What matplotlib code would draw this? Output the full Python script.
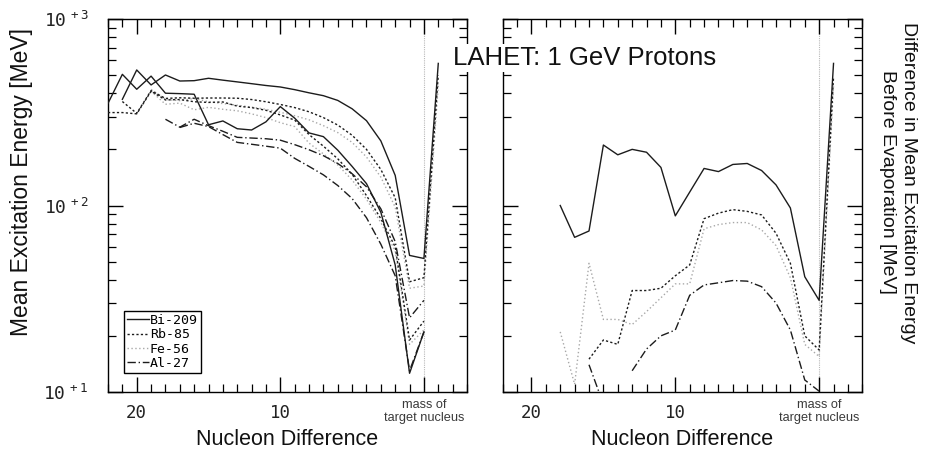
import matplotlib
matplotlib.use("Agg")
import matplotlib.pyplot as plt
from matplotlib.ticker import FixedLocator, FixedFormatter, LogLocator, NullFormatter
import numpy as np

# ---- Mean excitation energy [MeV] vs nucleon difference (left panel) ----
# upper curve of each pair: before evaporation; lower curve: after
nd_bi_hi = list(range(21, -2, -1))
bi_hi = [371, 533, 443, 501, 465, 467, 481, 470, 460, 450, 440, 432,
         418, 402, 388, 366, 330, 285, 222, 145, 54, 52, 578]
nd_bi_lo = list(range(22, -1, -1))
bi_lo = [353, 505, 420, 494, 400, 398, 395, 271, 284, 258, 254, 281,
         339, 294, 245, 234, 198, 162, 131, 92, 48, 12.6, 21]

nd_rb_hi = list(range(21, -2, -1))
rb_hi = [361, 312, 413, 375, 378, 376, 377, 377, 376, 370, 360, 348,
         335, 318, 296, 270, 238, 200, 156, 110, 39, 41, 500]
nd_rb_lo = list(range(22, -1, -1))
rb_lo = [315, 315, 310, 410, 368, 370, 360, 357, 359, 341, 335, 324,
         306, 287, 240, 208, 178, 147, 113, 85, 60, 19, 24]

nd_fe_hi = list(range(19, -2, -1))
fe_hi = [420, 370, 365, 375, 360, 352, 345, 337, 328, 316, 303, 288,
         268, 246, 218, 182, 142, 98, 36, 37, 440]
nd_fe_lo = list(range(19, -1, -1))
fe_lo = [410, 349, 354, 326, 336, 328, 322, 310, 296, 278, 265, 216,
         189, 165, 137, 108, 81, 57, 18, 21.5]

nd_al_hi = list(range(18, -1, -1))
al_hi = [290, 263, 290, 268, 250, 232, 230, 228, 224, 212, 199, 185,
         168, 148, 126, 96, 64, 25, 31]
nd_al_lo = list(range(17, -1, -1))
al_lo = [262, 276, 265, 240, 218, 213, 208, 203, 179, 162, 146, 128,
         109, 86, 62, 42, 13, 21]

# ---- Difference before/after evaporation (right panel) ----
nd_bi_diff = list(range(18, -2, -1))
bi_diff = [100, 67.5, 73, 211, 187, 200, 193, 160, 88, 118, 158, 152,
           166, 168, 154, 129, 97, 41.5, 31, 578]
nd_rb_diff = list(range(16, -2, -1))
rb_diff = [15, 19, 18, 35, 35, 36, 42, 48, 85, 91, 95, 93, 89, 71, 49,
           20, 16.8, 490]
nd_fe_diff = list(range(18, -2, -1))
fe_diff = [21, 11, 49, 24.5, 24.5, 23, 27, 32, 38, 38, 75, 79, 81, 81,
           74, 61, 41, 18, 15.5, 440]
nd_al_diff = [16, 15, 14, 13, 12, 11, 10, 9, 8, 7, 6, 5, 4, 3, 2, 1, 0]
al_diff = [14, 8.6, np.nan, 13, 17, 20, 21.5, 33, 37.5, 38.5, 39.6, 39.3,
           36.7, 30, 21.5, 11.6, 10.1]

labels = ["Bi-209", "Rb-85", "Fe-56", "Al-27"]
x_major = [20, 10, 0]
x_major_labels = ["20", "10", ""]
y_major = [10, 100, 1000]
y_major_labels = [r"$\mathregular{10^{\,+1}}$", r"$\mathregular{10^{\,+2}}$",
                  r"$\mathregular{10^{\,+3}}$"]

DARK = "#1c1c1c"
LIGHT = "#a8a8a8"
styles = [
    dict(color=DARK, lw=1.0, ls="-"),
    dict(color=DARK, lw=1.0, ls=(0, (1.6, 1.6))),
    dict(color=LIGHT, lw=1.0, ls=(0, (1.0, 1.8))),
    dict(color=DARK, lw=1.0, ls=(0, (6, 2, 1, 2))),
]

SANS = "Liberation Sans"
MONO = "DejaVu Sans Mono"

fig = plt.figure(figsize=(9.32, 4.51), dpi=100)
ax1 = fig.add_axes([108 / 932, 59 / 451, 359 / 932, 373 / 451])
ax2 = fig.add_axes([502.7 / 932, 59 / 451, 359.6 / 932, 373 / 451])

for ax in (ax1, ax2):
    ax.set_yscale("log")
    ax.set_xlim(22, -3)
    ax.set_ylim(10, 1000)
    ax.axvline(0, color="#b8b8b8", lw=0.8, ls=(0, (1, 1)), zorder=0)
    ax.xaxis.set_major_locator(FixedLocator(x_major))
    ax.xaxis.set_major_formatter(FixedFormatter(x_major_labels))
    ax.xaxis.set_minor_locator(FixedLocator(list(range(-3, 23))))
    ax.yaxis.set_major_locator(FixedLocator(y_major))
    ax.yaxis.set_minor_locator(LogLocator(base=10, subs=range(2, 10)))
    ax.yaxis.set_minor_formatter(NullFormatter())
    ax.tick_params(which="both", direction="in", top=True, right=True,
                   color="black")
    ax.tick_params(which="major", length=11, width=1.0)
    ax.tick_params(which="minor", length=5.5, width=0.9)
    for lab in ax.get_xticklabels():
        lab.set_fontfamily(MONO)
        lab.set_fontsize(12.5)
        lab.set_color("#222222")
    ax.tick_params(axis="x", pad=9)
    for sp in ax.spines.values():
        sp.set_linewidth(1.0)
    ax.set_xlabel("Nucleon Difference", fontsize=15.5, family=SANS,
                  labelpad=5, color="#111111")
    ax.text(0, -0.02, "mass of\ntarget nucleus", transform=ax.get_xaxis_transform(),
            ha="center", va="top", fontsize=9.2, family=SANS, color="#3a3a3a",
            linespacing=1.1)

ax1.yaxis.set_major_formatter(FixedFormatter(y_major_labels))
for lab in ax1.get_yticklabels():
    lab.set_fontfamily(MONO)
    lab.set_fontsize(13)
    lab.set_color("#222222")
ax1.tick_params(axis="y", pad=14)
ax2.yaxis.set_major_formatter(NullFormatter())

# left panel: pairs of curves
pairs = [
    (nd_bi_hi, bi_hi, nd_bi_lo, bi_lo),
    (nd_rb_hi, rb_hi, nd_rb_lo, rb_lo),
    (nd_fe_hi, fe_hi, nd_fe_lo, fe_lo),
    (nd_al_hi, al_hi, nd_al_lo, al_lo),
]
order = [2, 1, 3, 0]
for i in order:
    xh, yh, xl, yl = pairs[i]
    ax1.plot(xh, yh, label=labels[i], zorder=3, **styles[i])
    ax1.plot(xl, yl, zorder=3, **styles[i])

# right panel: differences
diffs = [(nd_bi_diff, bi_diff), (nd_rb_diff, rb_diff),
         (nd_fe_diff, fe_diff), (nd_al_diff, al_diff)]
for i in order:
    xd, yd = diffs[i]
    ax2.plot(xd, yd, zorder=3, **styles[i])

handles, labs = ax1.get_legend_handles_labels()
hmap = dict(zip(labs, handles))
leg = ax1.legend([hmap[l] for l in labels], labels, loc="lower left",
                 bbox_to_anchor=(0.045, 0.05), borderaxespad=0,
                 prop=dict(family=MONO, size=9.5), handlelength=1.6,
                 handletextpad=0.1, labelspacing=0.1, borderpad=0.25,
                 fancybox=False, framealpha=1, edgecolor="black")
leg.get_frame().set_linewidth(1.0)

fig.text(22 / 932, 0.596, "Mean Excitation Energy [MeV]", rotation=90,
         ha="center", va="center", fontsize=16.5, family=SANS,
         color="#111111")
fig.text(898 / 932, 0.596,
         "Difference in Mean Excitation Energy\nBefore Evaporation [MeV]",
         rotation=270, ha="center", va="center", fontsize=14, family=SANS,
         multialignment="center", linespacing=1.25, color="#111111")
fig.text(585 / 932, (451 - 58) / 451, "LAHET: 1 GeV Protons", ha="center",
         va="center", fontsize=18.5, family=SANS, color="#111111",
         bbox=dict(facecolor="white", edgecolor="none", pad=1.5),
         zorder=10)

fig.savefig("out.png", dpi=100)
